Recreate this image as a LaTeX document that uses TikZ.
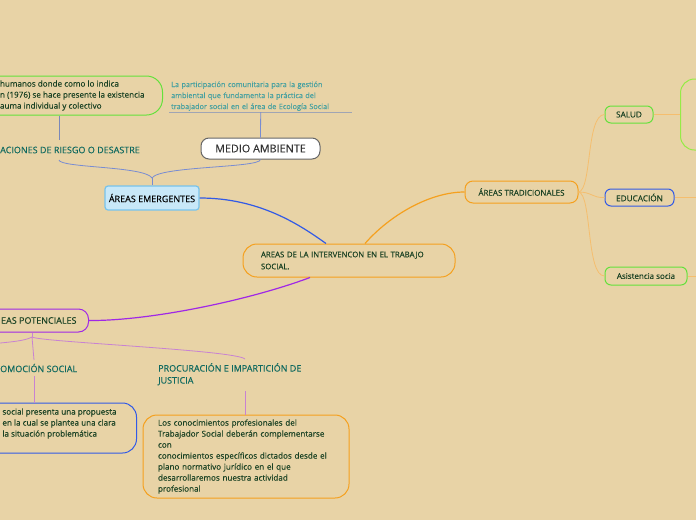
\documentclass[tikz,border=0pt]{standalone}
\usepackage{fontspec}
\setmainfont{Open Sans}[FakeBold=0.3]
\usepackage{xcolor}
\definecolor{bg}{RGB}{232,211,166}
\definecolor{txtgreen}{RGB}{25,65,35}
\definecolor{tealtxt}{RGB}{15,105,95}
\definecolor{paletxt}{RGB}{70,160,160}
\definecolor{orangeln}{RGB}{245,160,30}
\definecolor{lightorange}{RGB}{245,190,110}
\definecolor{greenln}{RGB}{100,225,60}
\definecolor{limeln}{RGB}{150,235,70}
\definecolor{blueln}{RGB}{50,90,230}
\definecolor{purpleln}{RGB}{160,40,230}
\definecolor{pinkln}{RGB}{200,130,210}
\definecolor{slateln}{RGB}{120,140,210}
\definecolor{grayln}{RGB}{160,165,180}
\definecolor{skyfill}{RGB}{200,232,248}
\definecolor{skyline}{RGB}{120,195,235}
\newcommand{\sz}[2]{\fontsize{#1}{#2}\selectfont}

\begin{document}
\begin{tikzpicture}[x=1pt, y=-1pt,
  idea/.style={draw, line width=1pt, rounded corners=#1, align=left, text=txtgreen},
  idea/.default=12pt,
  tlabel/.style={text=tealtxt, inner sep=0pt, align=left, font=\sz{9}{12}},
  branch/.style={line width=0.8pt}]
\fill[bg] (0,0) rectangle (696,520);
\useasboundingbox (0,0) rectangle (696,520);
\clip (0,0) rectangle (696,520);

\node[idea=16pt, draw=greenln, minimum height=39pt, inner xsep=18pt, anchor=east, font=\sz{8.1}{11}] (traumabox) at (163,95.5) {humanos donde como lo indica\\n (1976) se hace presente la existencia\\auma individual y colectivo};
\node[tlabel, anchor=west] (riesgolbl) at (0,150) {ACIONES DE RIESGO O DESASTRE};
\coordinate (riesgoTop) at (59,140);
\coordinate (riesgoBot) at (59,160);

\node[anchor=south west, text width=179pt, inner xsep=2pt, inner ysep=1pt, text=paletxt, font=\sz{7.3}{11}, align=left] (gestion) at (169,112) {La participación comunitaria para la gestión\\ambiental que fundamenta la práctica del\\trabajador social en el área de Ecología Social};
\draw[grayln, branch] (gestion.south west) -- (gestion.south east);

\node[draw=gray!80!black, fill=white, line width=1pt, rounded corners=8pt, minimum width=119pt, minimum height=21pt, text=black!80, font=\sz{10.8}{12}] (medio) at (260.5,148.5) {MEDIO AMBIENTE};
\draw[slateln, branch] (gestion.south) -- (medio.north);
\draw[slateln!70!gray, branch] (traumabox.south -| riesgoTop) -- (riesgoTop);

\node[draw=skyline, fill=skyfill, line width=1.2pt, rounded corners=3pt, minimum width=94pt, minimum height=24pt, font=\sz{9}{10}] (emergentes) at (152,198) {ÁREAS EMERGENTES};
\coordinate (emHub) at (152,178);
\draw[slateln, branch] (riesgoBot) .. controls (60,168) and (145,166) .. (emHub);
\draw[slateln, branch] (medio.south) .. controls (260,168) and (159,166) .. (emHub);
\draw[slateln, branch] (emHub) -- (emergentes.north);

\node[idea=14pt, draw=orangeln, text width=176pt, inner xsep=18pt, minimum height=33pt, font=\sz{7.8}{12}] (centro) at (349,260.5) {AREAS DE LA INTERVENCON EN EL TRABAJO\\SOCIAL.};

\node[idea=8pt, draw=orangeln, minimum width=113pt, minimum height=22pt, align=center, font=\sz{8}{10}] (tradicionales) at (521.5,192) {ÁREAS TRADICIONALES};
\node[idea=10pt, draw=purpleln, anchor=east, inner xsep=12pt, minimum height=23pt, font=\sz{9}{10}] (potenciales) at (89,320.5) {EAS POTENCIALES};

\draw[blueln, line width=1.2pt] (emergentes.east) .. controls (260,198) and (300,225) .. ([xshift=-23pt]centro.north);
\draw[orangeln, line width=1.2pt] ([xshift=16pt]centro.north) .. controls (390,215) and (430,192) .. (tradicionales.west);
\draw[purpleln, line width=1.2pt] ([xshift=-39pt]centro.south) .. controls (250,300) and (150,321) .. (potenciales.east);

\coordinate (potHub) at (32,337);
\coordinate (potLeft) at (-10,344);
\node[tlabel, anchor=west] (promocion) at (0,368) {OMOCIÓN SOCIAL};
\coordinate (promTop) at (34,360);
\coordinate (promBot) at (34,376);
\node[tlabel, anchor=north west] (procuracion) at (158,363) {PROCURACIÓN E IMPARTICIÓN DE\\JUSTICIA};
\coordinate (procTop) at (245,359);
\coordinate (procBot) at (245,391);

\node[idea=14pt, draw=blueln, anchor=east, inner xsep=20pt, minimum height=50pt, font=\sz{8.1}{11}] (propuesta) at (137,428) {social presenta una propuesta\\en la cual se plantea una clara\\la situación problemática\\\mbox{}};
\node[idea=14pt, draw=orangeln, text width=176pt, inner xsep=15pt, minimum height=83pt, font=\sz{8.1}{11}] (conoc) at (246,456.5) {Los conocimientos profesionales del\\Trabajador Social deberán complementarse\\con\\conocimientos específicos dictados desde el\\plano normativo jurídico en el que\\desarrollaremos nuestra actividad\\profesional};

\draw[pinkln, branch] (potenciales.south -| potHub) -- (potHub);
\draw[pinkln, branch] (potHub) .. controls (25,341) and (10,342) .. (potLeft);
\draw[pinkln, branch] (potHub) .. controls (40,342) and (235,350) .. (procTop);
\draw[pinkln, branch] (potHub) -- (promTop);
\draw[pinkln, branch] (promBot) -- (propuesta.north -| promBot);
\draw[pinkln, branch] (procBot) -- (conoc.north -| procBot);

\node[idea=6pt, draw=greenln, minimum width=48pt, minimum height=17pt, align=center, font=\sz{8.2}{9}] (salud) at (629,114.5) {SALUD};
\node[idea=6pt, draw=blueln, minimum width=69pt, minimum height=17pt, align=center, font=\sz{8.2}{9}] (educacion) at (639.5,197.5) {EDUCACIÓN};
\node[idea=6pt, draw=greenln, minimum width=82pt, minimum height=18pt, align=center, font=\sz{8}{9}] (asistencia) at (646,276) {Asistencia socia};
\node[draw=limeln, line width=1pt, rounded corners=14pt, minimum width=60pt, minimum height=71pt, anchor=west] (saludnota) at (680,114.5) {};
\coordinate (educOut) at (700,197.5);
\coordinate (asistOut) at (700,276);

\draw[lightorange, branch] (tradicionales.east) .. controls (592,190) and (586,115) .. (salud.west);
\draw[lightorange, branch] (tradicionales.east) .. controls (592,192) and (592,198) .. (educacion.west);
\draw[lightorange, branch] (tradicionales.east) .. controls (592,194) and (586,276) .. (asistencia.west);
\draw[lightorange, branch] (salud.east) -- (saludnota.west);
\draw[lightorange, branch] (educacion.east) -- (educOut);
\draw[lightorange, branch] (asistencia.east) -- (asistOut);
\end{tikzpicture}
\end{document}
